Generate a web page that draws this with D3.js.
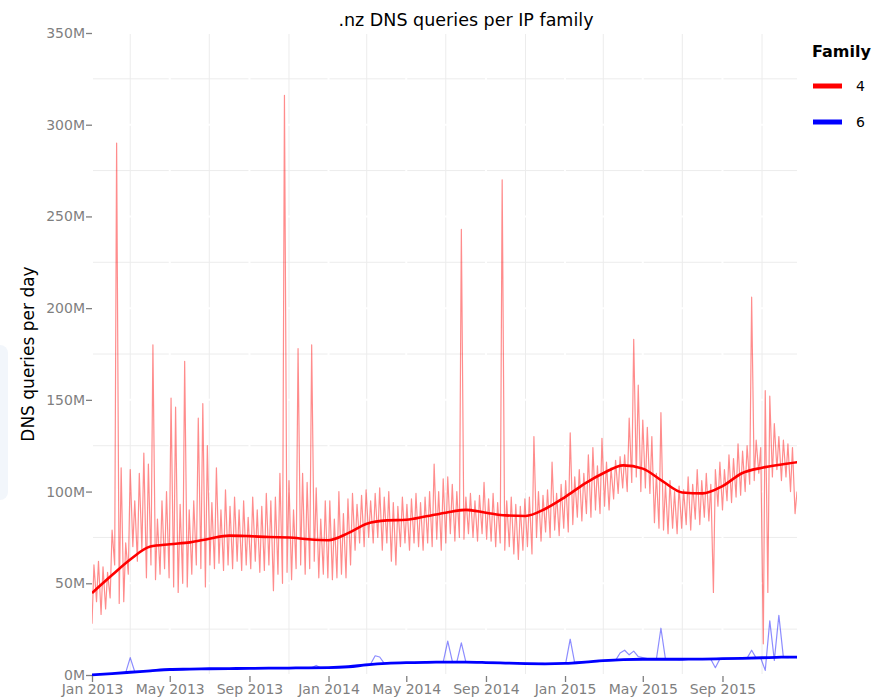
<!DOCTYPE html>
<html>
<head>
<meta charset="utf-8">
<script src="https://cdn.jsdelivr.net/npm/d3@7"></script>
<style>
  body { margin: 0; background: #fff; }
  text { font-family: "DejaVu Sans", sans-serif; }
</style>
</head>
<body>
<svg width="887" height="699"></svg>
<script>
(function() {
	/* .nz DNS queries per IP family, daily counts (millions)
	   raw series given as one weekend low + one weekday high per week */

	var families = ["4", "6"];
	var colours = {"4": "#ff0000", "6": "#0000ff"};

	// IPv4, weekly lows (day 0 of each week), millions
	var ipv4Low = [
		28, 40, 33, 36, 42, 60, 39, 40, 55, 70, 62, 68, 53,
		60, 52, 55, 58, 53, 48, 45, 50, 48, 55, 60, 58, 48,
		60, 58, 61, 57, 60, 58, 62, 57, 60, 58, 62, 56, 57,
		60, 46, 55, 50, 56, 52, 58, 60, 55, 58, 62, 53, 55,
		53, 52, 53, 55, 53, 60, 68, 72, 70, 75, 72, 75, 68,
		72, 62, 60, 70, 72, 68, 72, 70, 68, 72, 70, 74, 68,
		72, 77, 73, 75, 74, 77, 75, 73, 77, 74, 73, 70, 72,
		68, 70, 66, 63, 68, 70, 66, 75, 73, 78, 75, 79, 76,
		80, 78, 82, 86, 84, 88, 86, 90, 88, 92, 90, 96, 99,
		102, 100, 105, 108, 100, 102, 99, 83, 80, 79, 77, 80, 77,
		80, 82, 79, 85, 82, 86, 84, 45, 92, 90, 95, 94, 97,
		98, 100, 104, 106, 110, 17, 45, 108, 112, 106, 108, 100, 88
	];

	// IPv4, weekly highs (day 3 of each week), millions
	var ipv4High = [
		60, 62, 59, 56, 79, 290, 113, 72, 112, 95, 110, 121, 115,
		180, 85, 95, 100, 151, 146, 93, 171, 90, 95, 140, 148, 125,
		94, 113, 90, 101, 92, 97, 90, 95, 86, 97, 90, 92, 99,
		95, 97, 110, 316, 106, 90, 178, 110, 105, 180, 102, 85, 95,
		95, 85, 100, 88, 96, 99, 93, 98, 101, 95, 99, 102, 97,
		100, 94, 92, 97, 93, 96, 99, 94, 97, 100, 115, 100, 107,
		108, 104, 100, 243, 97, 99, 95, 98, 105, 96, 99, 94, 270,
		95, 97, 93, 92, 96, 97, 130, 100, 98, 101, 116, 99, 104,
		106, 132, 108, 112, 110, 120, 124, 114, 129, 116, 113, 117, 119,
		120, 140, 183, 158, 139, 135, 130, 110, 143, 104, 106, 100, 103,
		101, 108, 104, 112, 106, 110, 104, 112, 116, 112, 120, 118, 126,
		122, 125, 206, 128, 124, 155, 152, 137, 130, 128, 126, 124, 100
	];

	// IPv6, weekly values, millions
	var ipv6Weekly = [
		0.1, 0.3, 0.4, 0.6, 0.8, 1.0, 1.1, 1.3, 9.5, 1.8, 2.0, 2.2, 2.4,
		2.6, 2.8, 2.9, 3.0, 3.1, 3.1, 3.2, 3.2, 3.3, 3.3, 3.2, 3.4, 3.4,
		3.3, 3.5, 3.4, 3.5, 3.5, 3.6, 3.5, 3.6, 3.6, 3.7, 3.6, 3.7, 3.7,
		3.8, 3.6, 3.8, 3.8, 3.7, 3.9, 3.8, 3.9, 3.8, 3.9, 5.2, 3.9, 4.0,
		3.8, 4.0, 4.2, 4.4, 4.7, 5.0, 5.3, 5.6, 5.9, 6.0, 10.5, 9.8, 6.3,
		6.4, 6.5, 6.4, 6.6, 6.7, 6.6, 6.8, 6.7, 6.9, 6.8, 6.9, 6.9, 7.0,
		18.5, 7.5, 7.0, 17.5, 7.0, 7.1, 6.9, 7.0, 6.9, 6.8, 6.9, 6.7, 6.8,
		6.6, 6.7, 6.5, 6.4, 6.5, 6.3, 6.4, 6.2, 6.3, 6.1, 6.2, 6.2, 6.3,
		6.3, 19.5, 6.5, 6.6, 6.8, 7.0, 7.1, 7.3, 7.5, 7.6, 7.8, 8.0, 12.0,
		13.5, 11.0, 13.0, 10.0, 9.5, 9.0, 8.8, 8.6, 25.5, 8.7, 8.5, 8.6, 8.4,
		8.6, 8.5, 8.7, 8.6, 8.5, 8.7, 8.6, 4.0, 8.8, 8.9, 9.0, 8.9, 9.1,
		9.0, 9.2, 13.5, 9.2, 9.3, 2.5, 29.5, 8.0, 32.5, 9.6, 9.5, 9.8, 9.5
	];

	// smoothed trend, first of each month Jan 2013 .. Jan 2016, millions
	var ipv4Smooth = [
		44.7, 54.5, 63, 70, 71.3, 72.3, 74.3, 76, 75.7, 75.2, 75, 74,
		73.5, 77.5, 82.5, 84.3, 84.6, 86.5, 88.5, 90, 88.5, 87, 86.7, 90.5,
		97, 104.5, 110, 114.3, 112.5, 105.5, 99.5, 99, 103, 110, 113, 114.8,
		116.3
	];
	var ipv6Smooth = [
		0.1, 0.8, 1.5, 2.3, 3.0, 3.2, 3.4, 3.5, 3.6, 3.7, 3.8, 3.9,
		4.0, 4.5, 5.5, 6.3, 6.7, 6.9, 7.0, 7.0, 6.8, 6.5, 6.2, 6.1,
		6.3, 7.0, 7.8, 8.4, 8.6, 8.6, 8.6, 8.7, 8.9, 9.1, 9.4, 9.7,
		9.8
	];

	var yTicks = [0, 50, 100, 150, 200, 250, 300, 350];

	var start = new Date(2013, 0, 1);

	var raw4 = [];
	ipv4Low.forEach(function(v, i) {
		raw4.push({date: d3.timeDay.offset(start, 7 * i), value: v});
		raw4.push({date: d3.timeDay.offset(start, 7 * i + 3), value: ipv4High[i]});
	});
	var raw6 = ipv6Weekly.map(function(v, i) {
		return {date: d3.timeDay.offset(start, 7 * i + 3), value: v};
	});
	var smooth4 = ipv4Smooth.map(function(v, i) {
		return {date: d3.timeMonth.offset(start, i), value: v};
	});
	var smooth6 = ipv6Smooth.map(function(v, i) {
		return {date: d3.timeMonth.offset(start, i), value: v};
	});

	var left = 92, right = 797, top = 33, bottom = 675;
	var svg = d3.select("svg");

	var x = d3.scaleTime()
		.domain([start, raw4[raw4.length - 1].date])
		.range([left, right]);
	var y = d3.scaleLinear().domain([0, 350]).range([bottom, top]);

	// faint panel artefact at the left edge
	svg.append("rect").attr("x", -12).attr("y", 345).attr("width", 20).attr("height", 155)
		.attr("rx", 8).style("fill", "#f2f6fb");

	// minor grid
	var minorX = d3.timeMonth.range(start, x.domain()[1]).filter(function(d) { return d.getMonth() % 4 === 2; });
	var minorY = yTicks.slice(0, -1).map(function(d) { return d + 25; });
	svg.append("g").selectAll("line").data(minorX).enter().append("line")
		.attr("x1", function(d) { return x(d); }).attr("x2", function(d) { return x(d); })
		.attr("y1", top).attr("y2", bottom)
		.style("stroke", "#ececec").style("stroke-width", "1px");
	svg.append("g").selectAll("line").data(minorY).enter().append("line")
		.attr("x1", left).attr("x2", right)
		.attr("y1", function(d) { return y(d); }).attr("y2", function(d) { return y(d); })
		.style("stroke", "#ececec").style("stroke-width", "1px");

	// major grid is white, it only shows where it cuts the minor lines
	var majorX = d3.timeMonth.every(4).range(start, x.domain()[1]);
	svg.append("g").selectAll("line").data(majorX).enter().append("line")
		.attr("x1", function(d) { return x(d); }).attr("x2", function(d) { return x(d); })
		.attr("y1", top).attr("y2", bottom)
		.style("stroke", "#ffffff").style("stroke-width", "2px");
	svg.append("g").selectAll("line").data(yTicks).enter().append("line")
		.attr("x1", left).attr("x2", right)
		.attr("y1", function(d) { return y(d); }).attr("y2", function(d) { return y(d); })
		.style("stroke", "#ffffff").style("stroke-width", "2px");

	var clip = svg.append("clipPath").attr("id", "plot")
		.append("rect").attr("x", left).attr("y", 0).attr("width", right - left).attr("height", bottom + 2);

	var line = d3.line()
		.x(function(d) { return x(d.date); })
		.y(function(d) { return y(d.value); });
	var smoothLine = d3.line()
		.curve(d3.curveMonotoneX)
		.x(function(d) { return x(d.date); })
		.y(function(d) { return y(d.value); });

	var plot = svg.append("g").attr("clip-path", "url(#plot)");
	plot.append("path").datum(raw4).attr("d", line)
		.style("fill", "none").style("stroke", colours["4"]).style("stroke-opacity", 0.45)
		.style("stroke-width", "1.2px").style("stroke-linejoin", "round");
	plot.append("path").datum(raw6).attr("d", line)
		.style("fill", "none").style("stroke", colours["6"]).style("stroke-opacity", 0.45)
		.style("stroke-width", "1.2px").style("stroke-linejoin", "round");
	plot.append("path").datum(smooth4).attr("d", smoothLine)
		.style("fill", "none").style("stroke", colours["4"]).style("stroke-width", "2.6px");
	plot.append("path").datum(smooth6).attr("d", smoothLine)
		.style("fill", "none").style("stroke", colours["6"]).style("stroke-width", "2.8px");

	// axes
	var yAxis = svg.append("g").attr("transform", "translate(" + left + ",0)")
		.call(d3.axisLeft(y).tickValues(yTicks).tickSize(6).tickPadding(1)
			.tickFormat(function(d) { return d + "M"; }));
	var xAxis = svg.append("g").attr("transform", "translate(0," + (bottom + 1) + ")")
		.call(d3.axisBottom(x).tickValues(majorX).tickSize(6).tickPadding(2)
			.tickFormat(d3.timeFormat("%b %Y")));
	[yAxis, xAxis].forEach(function(a) {
		a.select(".domain").remove();
		a.selectAll(".tick line").style("stroke", "#7f7f7f").style("stroke-width", "1.3px");
		a.selectAll(".tick text").style("fill", "#7f7f7f").style("font-size", "14px")
			.style("font-family", "DejaVu Sans, sans-serif");
	});

	// titles
	svg.append("text").attr("x", 466).attr("y", 26).attr("text-anchor", "middle")
		.style("font-size", "17.5px").style("fill", "#000").text(".nz DNS queries per IP family");
	svg.append("text").attr("transform", "translate(34,354) rotate(-90)").attr("text-anchor", "middle")
		.style("font-size", "17px").style("fill", "#000").text("DNS queries per day");

	// legend
	svg.append("text").attr("x", 812).attr("y", 57)
		.style("font-size", "16px").style("font-weight", "bold").style("fill", "#000").text("Family");
	families.forEach(function(f, i) {
		var ly = 86 + i * 36;
		svg.append("line").attr("x1", 813).attr("x2", 842).attr("y1", ly).attr("y2", ly)
			.style("stroke", colours[f]).style("stroke-width", "5px");
		svg.append("text").attr("x", 856).attr("y", ly + 5)
			.style("font-size", "14px").style("fill", "#000").text(f);
	});
})();
</script>
</body>
</html>
